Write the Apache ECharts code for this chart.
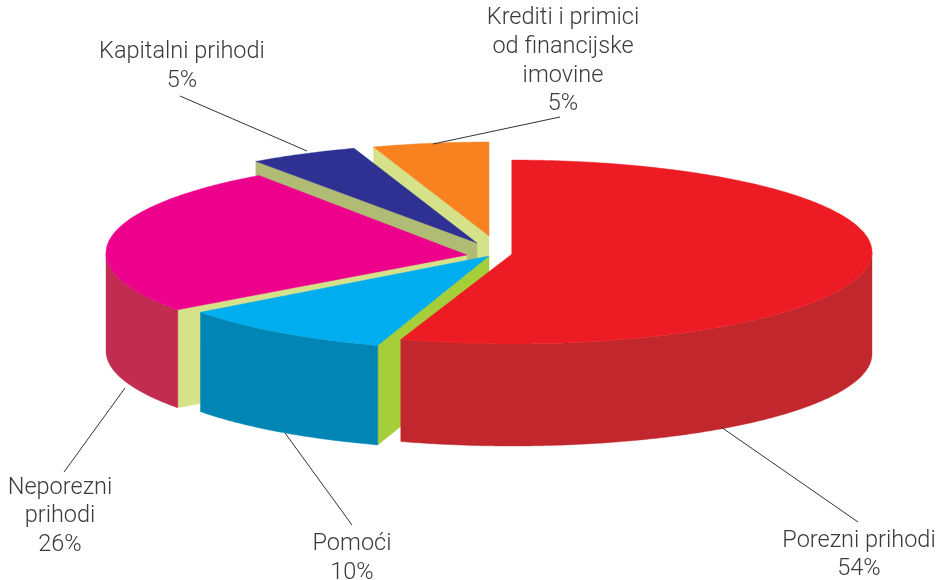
<!DOCTYPE html>
<html><head><meta charset="utf-8">
<style>html,body{margin:0;padding:0;background:#fff}#c{width:940px;height:580px}</style>
<script src="https://cdn.jsdelivr.net/npm/echarts@6/dist/echarts.min.js"></script>
</head><body><div id="c"></div>
<script>
// Data: in clockwise drawing order, starting at 12 o'clock
var categories = ['Porezni prihodi', 'Pomoći', 'Neporezni prihodi', 'Kapitalni prihodi', 'Krediti i primici od financijske imovine'];
var printedPercent = [54, 10, 26, 5, 5];
// Share of the circle each slice actually occupies in the picture (%)
var sliceShare = [55, 9.8, 25.4, 4.6, 5.2];

var categoryLines = [['Porezni prihodi'], ['Pomoći'], ['Neporezni', 'prihodi'], ['Kapitalni prihodi'], ['Krediti i primici', 'od financijske', 'imovine']];

// Styles and layout, kept apart from the data
var topColors  = ['#ed1c24', '#00aeef', '#ec008c', '#2e3192', '#f7821f'];
var wallColors = ['#c1272d', '#0085b5', '#c12c50', '#2e3192', '#f7821f'];
var cutColors  = ['#c1272d', '#a6ce39', '#d6e28a', '#b0bb74', '#d6e28a'];
var pie = { cx: 512, cy: 254 };
var explode = [[0, 0], [-23, 2], [-45, 1], [-35, -11], [-23, -18]];
var rimShift = [[0, -2], [0, 0], [1, -2], [0, 0], [0, 0]];
var radiusX = [360, 360, 362, 383, 360];
var radiusY = [92, 94, 95, 100, 94];
var depth = [102, 99.5, 98, 101, 101];
var labelCentre = [[859, 526.5], [352, 530], [60, 473.5], [182, 38], [563, 4]];
var lineHeight = 28.7;
var leaders = [[[721, 427], [858, 522]], [[285, 433], [352, 525]], [[125, 388], [64, 472]], [[307, 151], [180, 96]], [[433, 144], [560, 117]]];

var total = sliceShare.reduce(function (a, b) { return a + b; }, 0);
function startAngle(i) {
  var s = 0;
  for (var k = 0; k < i; k++) s += sliceShare[k];
  return s / total * 360;
}
function rim(i, c, deg, dz) {
  var r = deg * Math.PI / 180;
  return [c[0] + rimShift[i][0] + radiusX[i] * Math.sin(r), c[1] + rimShift[i][1] - radiusY[i] * Math.cos(r) + (dz || 0)];
}
function arc(i, c, a0, a1, dz) {
  var pts = [], n = Math.max(2, Math.ceil((a1 - a0) * 2));
  for (var k = 0; k <= n; k++) pts.push(rim(i, c, a0 + (a1 - a0) * k / n, dz));
  return pts;
}
function poly(points, fill, z2) {
  return { type: 'polygon', z2: z2, shape: { points: points },
    style: { fill: fill, stroke: fill, lineWidth: 0.4 } };
}
function renderSlice(params, api) {
  var i = api.value(0);
  var a0 = startAngle(i), a1 = a0 + api.value(1) / total * 360;
  var c = [pie.cx + explode[i][0], pie.cy + explode[i][1]];
  var base = (categories.length - i) * 10, kids = [], d = depth[i];
  // radial cut face at the slice's leading edge
  var p = rim(i, c, a0);
  kids.push(poly([c, p, [p[0], p[1] + d], [c[0], c[1] + d]], cutColors[i], base));
  // outer wall, front half of the ellipse only
  var w0 = Math.max(a0, 90), w1 = Math.min(a1, 270);
  if (w1 > w0) {
    kids.push(poly(arc(i, c, w0, w1).concat(arc(i, c, w0, w1, d).reverse()), wallColors[i], base + 1));
  }
  // top face
  kids.push(poly([c].concat(arc(i, c, a0, a1)), topColors[i], base + 2));
  return { type: 'group', children: kids };
}
function renderLabel(params, api) {
  var i = params.dataIndex;
  var txt = categoryLines[i].concat([printedPercent[i] + '%']).join('\n');
  return { type: 'group', children: [
    { type: 'line', z2: 200, shape: { x1: leaders[i][0][0], y1: leaders[i][0][1], x2: leaders[i][1][0], y2: leaders[i][1][1] },
      style: { stroke: '#333333', lineWidth: 1 } },
    { type: 'text', z2: 201, x: labelCentre[i][0], y: labelCentre[i][1],
      style: { text: txt, fill: '#3a3a3a', font: '300 23.5px Roboto, Inter, sans-serif', lineHeight: lineHeight, align: 'center', verticalAlign: 'top' } }
  ] };
}
var rows = categories.map(function (n, i) { return [i, sliceShare[i], printedPercent[i]]; });
var chart = echarts.init(document.getElementById('c'), null, { renderer: 'canvas' });
chart.setOption({
  animation: false,
  backgroundColor: '#ffffff',
  series: [
    { type: 'custom', coordinateSystem: 'none', data: rows, renderItem: renderSlice, silent: true },
    { type: 'custom', coordinateSystem: 'none', data: rows, renderItem: renderLabel, silent: true, z: 5 }
  ]
});
</script></body></html>
